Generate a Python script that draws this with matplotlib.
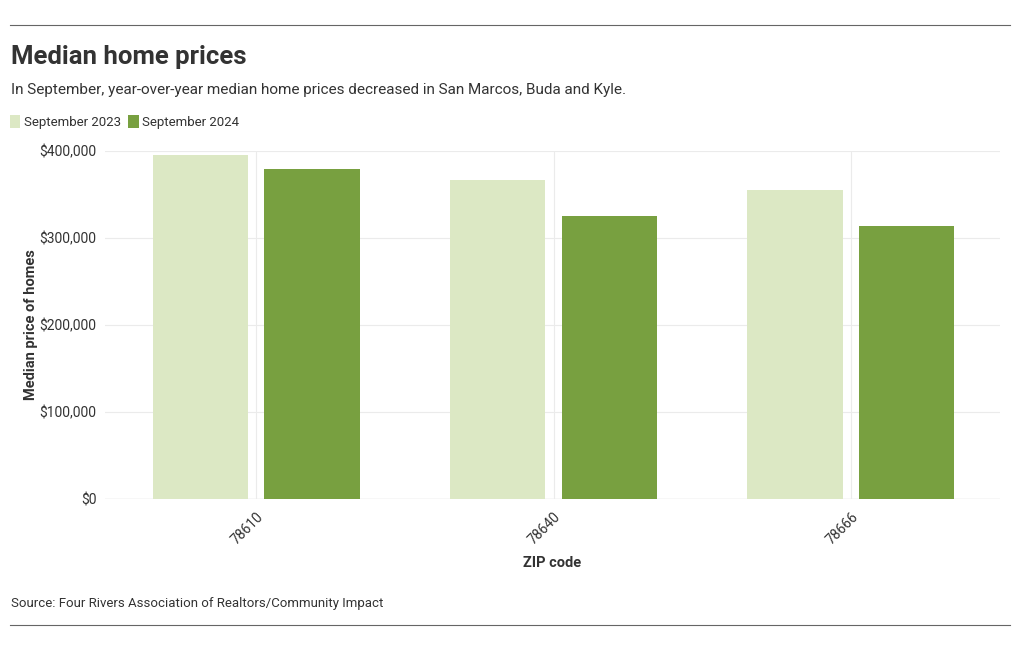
import matplotlib
matplotlib.use("Agg")
import matplotlib.pyplot as plt
import numpy as np

plt.rcParams['font.family'] = ['Roboto', 'DejaVu Sans']

zip_codes = ['78610', '78640', '78666']
sep_2023 = [395000, 367000, 355000]
sep_2024 = [379000, 325000, 314000]
y_ticks = [0, 100000, 200000, 300000, 400000]
y_tick_labels = ['$0', '$100,000', '$200,000', '$300,000', '$400,000']

light = '#dce8c4'
dark = '#78a040'
text_col = '#333333'

fig = plt.figure(figsize=(10.2, 6.5), dpi=100)
ax = fig.add_axes([0.103, 0.2323, 0.877, 0.5354])

x = np.arange(len(zip_codes))
w = 0.32
off = 0.188
ax.bar(x - off, sep_2023, width=w, color=light, zorder=2, label='September 2023')
ax.bar(x + off, sep_2024, width=w, color=dark, zorder=2, label='September 2024')

ax.set_xlim(-0.508, 2.5)
ax.set_ylim(0, 400000)
ax.set_yticks(y_ticks)
ax.set_yticklabels(y_tick_labels)
ax.set_xticks(x)
ax.set_xticklabels(zip_codes, rotation=45, ha='right', rotation_mode='anchor')
ax.grid(True, color='#ebebeb', linewidth=0.8, zorder=0)
for s in ax.spines.values():
    s.set_visible(False)
ax.axhline(0, color='#e0e0e0', linewidth=1, zorder=1)
ax.tick_params(axis='both', length=0, labelsize=10, colors=text_col, pad=6)
ax.tick_params(axis='x', pad=8)

ax.set_ylabel('Median price of homes', fontsize=10.5, fontweight='bold', color=text_col, labelpad=1)
ax.set_xlabel('ZIP code', fontsize=10.5, fontweight='bold', color=text_col, labelpad=6)

fig.text(0.011, 0.912, 'Median home prices', fontsize=18.5, fontweight='bold', color=text_col, va='center')
fig.text(0.011, 0.862, 'In September, year-over-year median home prices decreased in San Marcos, Buda and Kyle.',
         fontsize=11, color=text_col, va='center')

leg = fig.legend(loc='center left', bbox_to_anchor=(-0.002, 0.812), ncol=2, frameon=False,
                 fontsize=9.5, handlelength=0.8, handleheight=1.1, handletextpad=0.3,
                 columnspacing=0.5, labelcolor=text_col)

fig.text(0.011, 0.072, 'Source: Four Rivers Association of Realtors/Community Impact',
         fontsize=9.5, color=text_col, va='center')

fig.add_artist(plt.Line2D([0.0098, 0.990], [0.9615, 0.9615], color='#666666', linewidth=0.8))
fig.add_artist(plt.Line2D([0.0098, 0.990], [0.0385, 0.0385], color='#666666', linewidth=0.8))

fig.savefig('out.png', dpi=100)
